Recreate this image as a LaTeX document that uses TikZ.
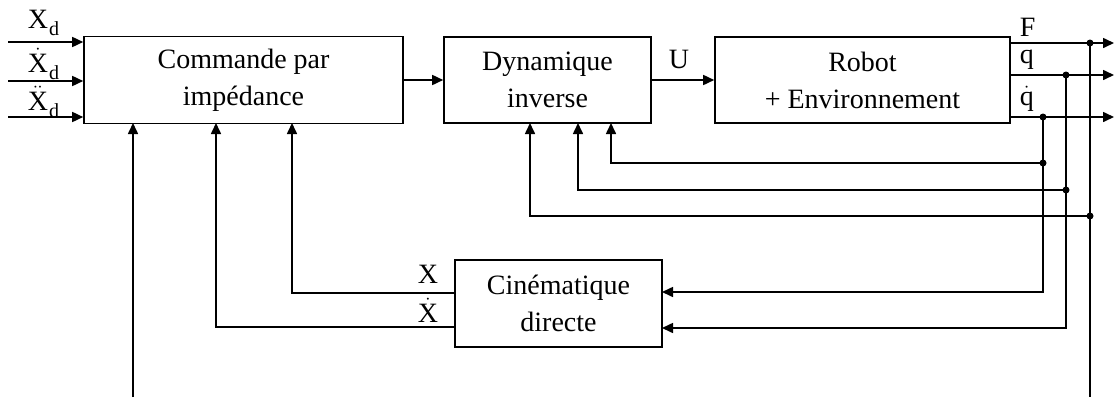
\documentclass[tikz,border=0pt]{standalone}
\usepackage{fontspec}
\setmainfont{Liberation Serif}
\usetikzlibrary{arrows.meta}

\begin{document}
\begin{tikzpicture}[x=1pt,y=-1pt,line width=1.6pt,
  font=\fontsize{28}{37}\selectfont,
  bloc/.style={draw,rectangle,align=center,inner sep=0pt},
  lbl/.style={inner sep=0pt,anchor=base west},
  sig/.style={-{Triangle[length=11pt,width=10pt]}},
  jdot/.style={fill=black}]
  \useasboundingbox (0,0) rectangle (1114,397);
  % blocs
  \node[bloc,minimum width=319pt,minimum height=87pt] (cmd) at (243.5,80) {Commande par\\imp\'edance};
  \node[bloc,minimum width=207pt,minimum height=86pt] (dyn) at (547.5,80) {Dynamique\\inverse};
  \node[bloc,minimum width=295pt,minimum height=86pt] (robot) at (862.5,80) {Robot\\+ Environnement};
  \node[bloc,minimum width=207pt,minimum height=87pt] (cin) at (558.5,303.5) {Cin\'ematique\\directe};
  % consignes
  \foreach \y/\b/\lab [count=\i] in {42/28/{X},81/72/{$\dot{\hbox{X}}$},117/110/{$\ddot{\hbox{X}}$}} {
    \coordinate (in\i) at (8,\y);
    \draw[sig] (in\i) -- (cmd.west |- in\i);
    \node[lbl] at (27,\b) {\lab\kern1pt\raisebox{-7pt}{\fontsize{20}{20}\selectfont d}};
  }
  \draw[sig] (cmd) -- (dyn);
  \draw[sig] (dyn) -- (robot);
  \node[lbl,anchor=base] (lU) at (679,68) {U};
  % sorties
  \foreach \y/\b/\lab [count=\i] in {43/36/F,75/63/q,117/105/{$\dot{\hbox{q}}$}} {
    \coordinate (out\i) at (1114,\y);
    \draw[sig] (robot.east |- out\i) -- (out\i);
    \node[lbl] at (1019,\b) {\lab};
  }
  \coordinate (jF) at (1090,43);
  \coordinate (jQ) at (1066,75);
  \coordinate (jQd) at (1043,117);
  \coordinate (kF) at (1090,216);
  \coordinate (kQ) at (1066,190);
  \coordinate (kQd) at (1043,163);
  \coordinate (bF) at (1090,397);
  \coordinate (dynF) at (530,123);
  \coordinate (dynQ) at (578,123);
  \coordinate (dynQd) at (611,123);
  \coordinate (cinA) at (662,292);
  \coordinate (cinB) at (662,328);
  \coordinate (cinX) at (455,293);
  \coordinate (cinXd) at (455,327);
  \coordinate (cmdX) at (292,123);
  \coordinate (cmdXd) at (216,123);
  \coordinate (cmdE) at (133,123);
  \coordinate (bE) at (133,397);
  % retours
  \draw (jF) -- (bF);
  \draw[sig] (jQ) |- (cinB);
  \draw[sig] (jQd) |- (cinA);
  \draw[sig] (kF) -| (dynF);
  \draw[sig] (kQ) -| (dynQ);
  \draw[sig] (kQd) -| (dynQd);
  \foreach \p in {jF,jQ,jQd,kF,kQ,kQd} \fill[jdot] (\p) circle (3.5pt);
  \draw[sig] (cinX) -| (cmdX);
  \draw[sig] (cinXd) -| (cmdXd);
  \draw[sig] (bE) -- (cmdE);
  \node[lbl] at (417,283) {X};
  \node[lbl] at (417,322) {$\dot{\hbox{X}}$};
\end{tikzpicture}
\end{document}
